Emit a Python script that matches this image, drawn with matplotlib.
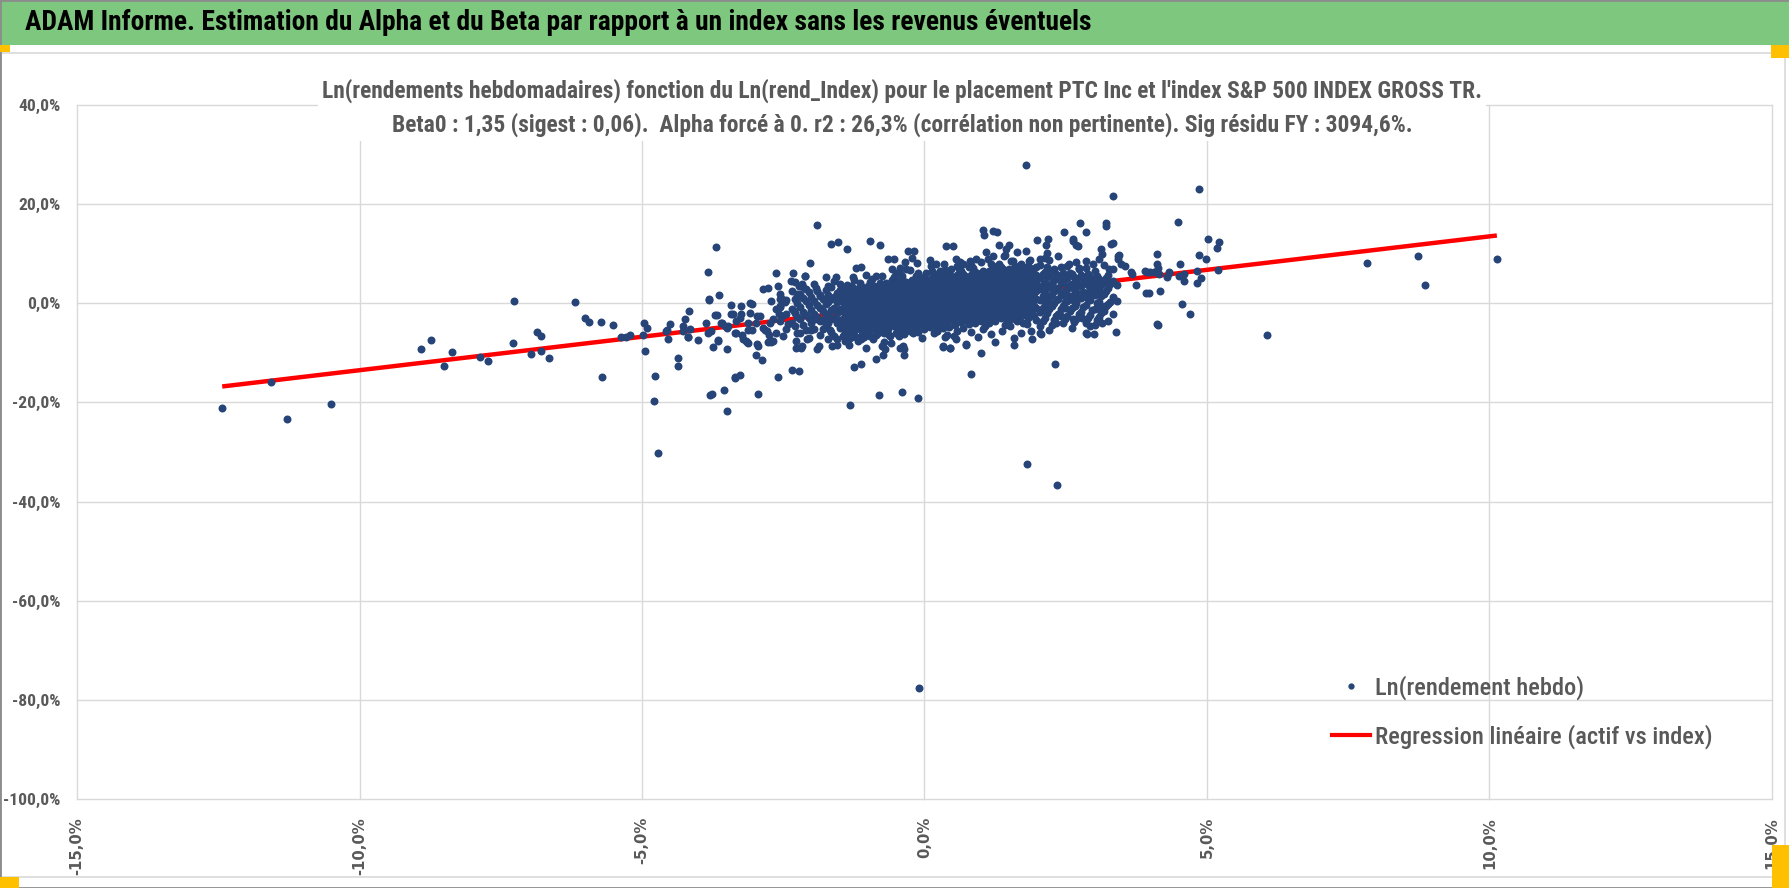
import matplotlib.pyplot as plt
from matplotlib import font_manager as fm
from matplotlib.patches import Rectangle
from matplotlib.lines import Line2D
from matplotlib.ticker import FuncFormatter, MultipleLocator

# Rendements (en %) : x = Ln(rend_Index), y = Ln(rendement hebdo)
# points isolés
pts_outer = [
    (-12.43, -21.2), (-11.57, -15.8), (-11.28, -23.4), (-10.51, -20.3),
    (-8.92, -9.3), (-8.73, -7.5), (-8.51, -12.6), (-8.36, -9.9), (-7.86, -10.8), (-7.73, -11.7),
    (-7.26, 0.4), (-7.28, -8.1), (-6.96, -10.2), (-6.86, -5.7), (-6.79, -6.7), (-6.79, -9.7),
    (-6.65, -11.1), (-6.18, 0.2), (-6.01, -3.0), (-5.93, -3.7), (-5.73, -3.7), (-5.71, -14.9),
    (-5.51, -4.3), (-5.37, -6.9), (-5.28, -6.9), (-5.21, -6.3), (-4.96, -4.0), (-4.92, -4.9),
    (-4.98, -6.3), (-4.94, -9.6), (-4.77, -14.7), (-4.78, -19.7), (-4.72, -30.3),
    (-4.36, -11.0), (-4.36, -12.7), (-3.79, -18.5), (-3.76, -18.3), (-3.55, -17.4),
    (-3.49, -21.8), (-3.35, -15.0), (-3.26, -14.5), (-2.94, -18.3), (-2.98, -10.5),
    (-2.88, -11.4), (-2.59, -14.95), (-2.35, -13.5), (-2.23, -13.7), (-1.31, -20.6),
    (-1.24, -12.9), (-1.12, -12.3), (-0.81, -18.6), (-0.39, -17.8), (-0.12, -19.1),
    (-0.86, -11.2), (-0.74, -10.5), (-0.76, -8.6), (-0.43, -8.95), (-0.37, -10.5), (-1.04, -9.1),
    (0.82, -14.3), (1.0, -10.0), (0.74, -8.5), (0.33, -8.8), (0.45, -9.1),
    (1.82, -32.4), (2.35, -36.6), (2.31, -12.3), (1.58, -8.5), (1.9, -7.3), (2.07, -6.1),
    (2.88, -6.1), (3.0, -6.1), (3.39, -5.7), (4.13, -4.4), (4.55, -0.2), (4.70, -2.2),
    (-0.09, -77.6),
    (1.80, 27.9), (3.33, 21.7), (4.86, 23.1), (4.49, 16.4),
    (7.83, 8.1), (8.73, 9.6), (8.85, 3.7), (10.13, 9.0), (6.07, -6.3),
    (5.01, 12.9), (5.21, 12.3), (5.18, 11.1), (4.12, 9.9), (4.86, 9.7), (4.98, 8.9), (4.53, 7.9),
    (4.12, 7.9), (4.14, 7.2), (3.93, 6.3), (4.0, 6.3), (4.06, 6.3), (4.33, 6.3), (4.3, 5.4),
    (4.5, 5.5), (4.59, 4.5), (4.89, 5.0), (4.83, 4.0), (5.2, 6.7), (3.75, 3.7), (3.92, 2.0),
    (3.97, 2.0), (4.17, 2.5), (4.12, -4.2),
    (-3.69, 11.4), (-1.90, 15.8), (-1.65, 11.9), (-1.53, 12.3), (-1.37, 11.0), (-0.96, 12.6),
    (-0.78, 11.7), (2.75, 16.1), (3.21, 16.1), (3.22, 15.6), (2.47, 14.4), (2.86, 14.3),
    (2.63, 12.9), (2.69, 11.7), (2.15, 11.8), (2.19, 12.9), (3.33, 12.1), (3.43, 8.9),
    (3.45, 9.7), (3.33, 6.9), (3.26, 7.0), (3.55, 7.5), (3.65, 6.3), (3.68, 6.0), (3.12, 10.9),
    (3.15, 9.9), (1.03, 14.8), (1.06, 13.8), (1.21, 14.6), (1.28, 14.4), (1.31, 11.7),
    (1.49, 11.7), (1.80, 10.6), (1.43, 9.7), (1.08, 10.4), (0.51, 11.5), (-0.19, 10.5),
    (-0.22, 9.2), (-0.54, 9.0), (-1.12, 7.3),
]

# nuage à gauche du coeur
pts_left = [
    (-2.02, 8.1), (-2.63, 6.1), (-2.33, 6.1), (-2.30, 4.2), (-2.11, 5.6), (-2.17, 3.9),
    (-2.77, 3.0), (-2.59, 3.5), (-2.36, 4.5), (-3.84, 6.3), (-3.64, 1.6), (-3.81, 0.6),
    (-4.17, -1.5), (-4.55, -5.3), (-4.51, -4.2), (-4.54, -7.3), (-4.27, -5.6), (-4.24, -3.2),
    (-4.18, -6.9), (-4.15, -5.1), (-4.0, -7.5), (-3.87, -3.9), (-3.77, -5.6), (-3.75, -8.8),
    (-3.68, -2.4), (-3.65, -7.4), (-3.59, -3.9), (-3.5, -9.3), (-3.48, -4.6), (-3.43, -0.4),
    (-3.39, -2.2), (-3.36, -14.8), (-3.34, -5.9), (-3.24, -0.5), (-3.27, -2.9), (-3.21, -7.3),
    (-3.15, -7.9), (-3.12, -3.9), (-3.09, 0.1), (-3.12, -5.3), (-2.95, -8.6), (-2.92, -2.6),
    (-2.86, 2.8), (-2.83, -5.3), (-2.77, -7.9), (-2.74, -3.9), (-2.71, 0.5), (-2.62, -1.2),
    (-2.56, 0.8), (-2.53, -2.6), (-2.50, -6.6), (-4.57, -5.6), (-4.28, -4.6), (-4.19, -6.9),
    (-3.84, -5.9), (-3.82, 0.8), (-3.65, -7.6), (-3.70, -2.4), (-3.60, -3.9), (-3.53, -4.6),
    (-3.50, -4.9), (-3.36, -5.9), (-3.33, -3.6), (-3.43, -2.2), (-3.24, -2.2), (-3.23, -6.3),
    (-3.16, -7.6), (-3.13, -8.0), (-3.06, -5.3), (-2.98, -3.9), (-2.96, -8.3), (-3.09, -1.9),
    (-3.06, -0.2), (-2.96, -2.6), (-2.86, -4.9), (-2.79, -5.6), (-2.75, -6.3), (-2.72, -7.9),
    (-2.69, -7.6), (-2.62, -5.9), (-2.69, -3.2), (-2.58, -2.2), (-2.55, -0.5), (-2.42, -4.2),
    (-2.31, -1.6), (-2.28, -7.6), (-2.21, -5.9), (-2.16, -8.6), (-2.08, -7.3), (-2.01, -5.3),
    (-2.28, -9.0), (-2.18, -9.0), (-1.91, -9.3), (-1.87, -8.6), (-1.94, -3.2), (-1.74, -4.2),
    (-1.70, -7.3), (-1.67, -5.3), (-1.64, -8.6), (-1.55, -8.5), (-2.53, 0.8), (-2.47, 0.3),
    (-2.23, 3.5), (-2.20, 1.5), (-1.92, 3.1), (-1.85, 1.5), (-1.75, 5.3), (-1.70, 3.4),
    (-1.57, 5.3), (-1.49, 3.9), (-2.12, 5.5),
]

# bordures du coeur dense
pts_fringe = [
    (-1.43, -6.3), (-1.40, -7.6), (-1.34, -5.6), (-1.27, -6.6), (-1.25, -4.9), (-1.13, -7.3),
    (-1.09, -5.9), (-1.02, -5.3), (-0.92, -7.3), (-0.86, -5.9), (-0.72, -7.9), (-0.70, -9.2),
    (-0.62, -6.3), (-0.48, -5.9), (-0.45, -6.6), (-0.38, -8.6), (-0.36, -9.3), (-0.31, -5.3),
    (-0.21, -5.9), (0.02, -4.2), (0.16, -5.9), (0.22, -5.6), (0.32, -8.6), (0.36, -6.9),
    (0.46, -9.0), (0.53, -6.6), (0.56, -7.3), (0.73, -8.3), (0.82, -5.8), (1.18, -6.1),
    (1.37, -5.6), (1.51, -4.6), (1.58, -7.1), (1.64, -3.6), (1.71, -5.9), (1.81, -4.2),
    (1.88, -5.6), (2.05, -5.9), (2.19, 0.2), (2.32, -3.9), (2.42, -2.6), (2.49, -0.9),
    (2.63, -3.2), (2.66, -0.5), (2.79, -2.9), (2.86, -5.9), (2.93, -4.6), (3.07, -3.2),
    (3.10, -1.2), (3.15, -3.9), (3.20, -0.5),
    (0.57, 7.6), (0.34, 8.0), (0.27, 6.5), (0.12, 7.5), (-0.39, 5.5), (-0.33, 7.0), (-0.12, 6.1),
    (-0.57, 6.9), (-0.53, 4.6), (-0.86, 5.5), (-0.91, 3.5), (-1.12, 3.5), (-1.09, 2.2),
    (-1.27, 5.3), (-1.3, 3.5), (-1.21, 7.2), (-0.65, 9.0), (-0.29, 10.6), (-0.14, 8.2),
    (-0.44, 7.2), (-0.50, 6.2), (0.38, 11.5), (0.21, 7.9), (0.56, 9.0), (0.68, 7.9), (0.80, 8.5),
    (0.91, 8.9), (0.85, 7.2), (1.21, 9.6), (1.40, 9.6), (1.53, 8.6), (1.64, 10.4), (1.70, 7.9),
    (1.85, 8.6), (1.99, 12.8), (2.17, 10.1), (2.05, 8.9), (2.14, 9.2), (2.62, 12.6), (2.71, 11.5),
    (2.56, 7.9), (2.74, 7.2), (2.86, 8.6), (2.98, 7.9), (3.30, 11.9), (3.42, 9.6), (3.48, 7.9),
    (3.91, 6.5), (4.15, 5.9), (4.59, 5.9), (4.83, 6.5), (4.33, 6.2),
    (-0.05, -7.0), (0.40, -6.3), (0.95, -6.8), (1.25, -7.9), (-0.60, -8.1), (0.10, 8.7),
    (0.62, 8.4), (1.12, 8.9), (-0.35, 8.4), (1.45, 10.9),
]

# colonnes denses : indice -> rendements de l'actif
left_columns = {
    -2.55: [-3.5, -0.8, 1.9],
    -2.45: [-5.2, -2.1, 0.6],
    -2.35: [-3.9, -1.2, 2.4],
    -2.30: [-4.6, -1.9, 0.8],
    -2.25: [-6.0, -2.7, 0.0, 1.8],
    -2.20: [-3.2, -0.8, 1.9],
    -2.15: [-4.4, -1.7, 1.0, 3.2],
    -2.10: [-5.4, -2.3, 0.4, 2.9],
    -2.05: [-3.0, -0.4, 2.3, -7.0],
    -2.00: [-4.0, -1.4, 1.3],
    -1.95: [-5.1, -2.2, 0.5, 3.9],
    -1.90: [-2.8, -0.3, 2.4],
    -1.85: [-3.6, -1.0, 1.6, -6.4],
    -1.80: [-5.2, -3.3, -1.6, 0.8],
    -1.75: [-4.6, -2.5, -0.2, 2.6],
    -1.70: [-3.9, -2.1, 0.2, 1.7],
    -1.65: [-5.8, -3.2, -1.4, 0.9, 3.3],
    -1.60: [-6.5, -2.9, -0.9, 1.2, 4.5],
    -1.55: [-4.0, -2.0, 0.3, 2.1, -7.3],
    -1.50: [-5.0, -3.4, -1.1, 0.8, 2.6],
}

core_columns = {
    -1.45: [-6.7, -4.8, -3.1, -1.5, 0.2, 2.0],
    -1.415: [-5.9, -4.0, -2.2, -0.7, 1.0, 2.9],
    -1.38: [-5.4, -3.7, -2.3, -0.5, 1.2, 3.6],
    -1.345: [-6.2, -3.1, -1.5, 0.2, 1.9, -8.4],
    -1.31: [-7.1, -4.2, -2.7, -1.0, 0.7, 2.3],
    -1.275: [-4.9, -3.4, -1.8, -0.2, 1.4, 3.2],
    -1.24: [-5.6, -3.3, -1.7, 0.0, 1.7, 4.6],
    -1.205: [-6.8, -4.0, -2.4, -0.8, 0.9, 2.8],
    -1.17: [-4.5, -2.8, -1.1, 0.5, 2.3, -7.7],
    -1.135: [-5.2, -3.2, -1.5, 0.1, 1.8, 4.0],
    -1.10: [-6.1, -3.6, -1.9, -0.4, 1.3, 3.0],
    -1.065: [-4.4, -2.6, -0.9, 0.8, 2.5, -6.9],
    -1.03: [-4.7, -2.9, -1.2, 0.4, 2.1, 5.7],
    -0.995: [-5.6, -3.3, -1.7, 0.0, 1.6, 3.4],
    -0.96: [-6.5, -3.8, -2.1, -0.5, 1.1, 2.8, 4.3],
    -0.925: [-4.3, -2.5, -0.9, 0.9, 2.4, 4.9],
    -0.89: [-5.1, -3.2, -1.5, 0.2, 1.8, 3.5],
    -0.855: [-6.3, -3.9, -2.0, -0.3, 1.4, 3.0],
    -0.82: [-4.2, -2.3, -0.7, 1.0, 2.6, -5.9],
    -0.785: [-4.8, -2.8, -1.1, 0.5, 2.1, 4.1],
    -0.75: [-5.3, -3.4, -1.8, -0.2, 1.5, 3.2, 5.6],
    -0.715: [-3.7, -2.1, -0.4, 1.2, 2.9, -6.0],
    -0.68: [-4.3, -2.7, -1.0, 0.6, 2.2, 4.0],
    -0.645: [-5.1, -3.0, -1.3, 0.2, 1.9, 3.5],
    -0.61: [-6.7, -3.5, -1.9, -0.3, 1.4, 3.0],
    -0.575: [-4.1, -2.3, -0.6, 1.0, 2.7, 4.6],
    -0.54: [-4.6, -2.8, -1.2, 0.4, 2.0, 3.7, 5.3],
    -0.505: [-5.9, -3.3, -1.6, 0.0, 1.6, 3.3],
    -0.47: [-3.7, -2.0, -0.5, 1.1, 2.8, -5.3],
    -0.435: [-4.3, -2.5, -0.8, 0.8, 2.4, 4.1, 5.9],
    -0.40: [-4.9, -3.0, -1.4, 0.2, 1.8, 3.4, 4.9],
    -0.365: [-3.5, -1.8, -0.1, 1.5, 3.1, -6.2],
    -0.33: [-3.9, -2.2, -0.6, 1.0, 2.6, 4.2],
    -0.295: [-4.7, -2.7, -1.0, 0.6, 2.2, 3.8],
    -0.26: [-5.5, -3.2, -1.5, 0.1, 1.7, 3.4, 6.7],
    -0.225: [-3.8, -2.0, -0.3, 1.3, 2.9, 4.6],
    -0.19: [-4.2, -2.4, -0.8, 0.8, 2.4, 4.0],
    -0.155: [-5.0, -2.9, -1.2, 0.4, 2.0, 3.6, 5.5],
    -0.12: [-3.3, -1.6, 0.0, 1.6, 3.2, 4.9, -5.7],
    -0.085: [-4.0, -2.1, -0.5, 1.1, 2.7, 4.3],
    -0.05: [-4.4, -2.5, -0.9, 0.7, 2.3, 3.9],
    -0.015: [-3.2, -1.4, 0.2, 1.9, 3.5, 5.3, -5.2],
    0.02: [-3.7, -1.8, -0.2, 1.4, 3.0, 4.7, 6.2],
    0.055: [-4.3, -2.3, -0.6, 1.0, 2.6, 4.2],
    0.09: [-4.8, -2.8, -1.1, 0.5, 2.1, 3.7],
    0.125: [-3.4, -1.6, 0.1, 1.7, 3.3, 5.0, 6.6],
    0.16: [-4.0, -2.1, -0.4, 1.2, 2.8, 4.4, 5.8],
    0.195: [-4.6, -2.6, -0.9, 0.7, 2.3, 3.9],
    0.23: [-3.1, -1.3, 0.4, 2.0, 3.6, 5.2, -5.6],
    0.265: [-3.7, -1.8, -0.1, 1.5, 3.1, 4.8, 6.1],
    0.30: [-4.2, -2.2, -0.5, 1.1, 2.7, 4.3],
    0.335: [-2.9, -1.0, 0.7, 2.3, 3.9, 5.6, -5.0],
    0.37: [-3.3, -1.5, 0.2, 1.8, 3.4, 5.1, 6.7],
    0.405: [-4.0, -2.0, -0.3, 1.3, 3.0, 4.6],
    0.44: [-4.8, -2.4, -0.7, 0.9, 2.5, 4.1, 5.8],
    0.475: [-3.0, -1.1, 0.6, 2.2, 3.8, 5.5, 7.0],
    0.51: [-3.4, -1.6, 0.1, 1.7, 3.3, 4.9],
    0.545: [-4.4, -2.1, -0.4, 1.2, 2.8, 4.4],
    0.58: [-2.6, -0.9, 0.8, 2.4, 4.0, 5.7, -5.5],
    0.615: [-3.2, -1.4, 0.3, 1.9, 3.5, 5.2, 6.9],
    0.65: [-3.7, -1.8, -0.1, 1.5, 3.1, 4.7, 6.5],
    0.685: [-2.4, -0.6, 1.1, 2.7, 4.3, 6.0, -4.9],
    0.72: [-2.9, -1.1, 0.6, 2.2, 3.8, 5.5],
    0.755: [-3.5, -1.6, 0.1, 1.7, 3.3, 5.0],
    0.79: [-4.1, -2.0, -0.3, 1.3, 2.9, 4.5, 7.4],
    0.825: [-2.7, -0.8, 0.9, 2.5, 4.1, 5.8, 7.8],
    0.86: [-3.2, -1.2, 0.5, 2.1, 3.7, 5.3, 6.8],
    0.895: [-3.9, -1.7, 0.0, 1.6, 3.2, 4.8, 6.4],
    0.93: [-2.4, -0.5, 1.2, 2.8, 4.4, 6.1],
    0.965: [-2.9, -1.0, 0.7, 2.3, 3.9, 5.6],
    1.00: [-3.5, -1.4, 0.3, 1.9, 3.5, 5.1, 8.3],
    1.035: [-2.0, -0.1, 1.6, 3.2, 4.8, 6.6, -5.1],
    1.07: [-2.6, -0.6, 1.1, 2.7, 4.3, 5.9, -4.5],
    1.105: [-3.3, -1.2, 0.6, 2.2, 3.8, 5.4],
    1.14: [-4.0, -1.6, 0.1, 1.7, 3.3, 4.9, 6.6],
    1.175: [-2.3, -0.3, 1.4, 3.0, 4.6, 6.2, 8.0],
    1.21: [-2.7, -0.8, 0.9, 2.5, 4.1, 5.7, 7.6],
    1.245: [-3.5, -1.3, 0.4, 2.0, 3.6, 5.3],
    1.28: [-1.8, 0.0, 1.7, 3.3, 4.9, 6.6],
    1.315: [-2.5, -0.5, 1.2, 2.8, 4.4, 6.1, 7.9],
    1.35: [-3.0, -1.0, 0.7, 2.3, 3.9, 5.5, 7.3],
    1.385: [-1.6, 0.3, 2.0, 3.6, 5.2, 6.9],
    1.42: [-2.1, -0.2, 1.5, 3.1, 4.7, 6.3, -4.3],
    1.455: [-2.8, -0.7, 1.0, 2.6, 4.2, 5.8, -3.8],
    1.49: [-3.3, -1.2, 0.5, 2.1, 3.7, 5.3, 7.0],
    1.525: [-1.8, 0.1, 1.8, 3.4, 5.0, 6.7],
    1.56: [-2.3, -0.4, 1.3, 2.9, 4.5, 6.1, 8.5],
    1.595: [-3.1, -0.9, 0.8, 2.4, 4.0, 5.6, 7.6],
    1.63: [-1.4, 0.4, 2.1, 3.7, 5.3, 7.0],
    1.665: [-2.0, -0.1, 1.6, 3.2, 4.8, 6.4],
    1.70: [-2.6, -0.6, 1.1, 2.7, 4.3, 5.9, 7.8],
    1.735: [-1.1, 0.7, 2.4, 4.0, 5.6, 7.3, -3.9],
    1.77: [-1.7, 0.2, 1.9, 3.5, 5.1, 6.7],
    1.805: [-2.3, -0.2, 1.5, 3.1, 4.7, 6.3],
    1.84: [-3.0, -0.7, 1.0, 2.6, 4.2, 5.8, 7.5],
    1.875: [-1.4, 0.5, 2.2, 3.8, 5.4, 7.1, 8.7],
    1.91: [-1.9, 0.0, 1.7, 3.3, 4.9, 6.5],
    1.945: [-2.6, -0.5, 1.2, 2.8, 4.4, 6.0],
    1.98: [-1.0, 0.8, 2.5, 4.1, 5.7, 7.4, -3.3],
}

right_columns = {
    2.05: [-4.6, -1.8, 0.6, 2.9, 5.2, 7.7],
    2.09: [-3.5, -0.9, 1.4, 3.7, 6.0],
    2.13: [-2.9, -0.3, 1.9, 4.1, 6.4],
    2.17: [-1.9, 0.8, 3.0, 5.3, 7.4],
    2.21: [-5.3, -1.2, 1.2, 3.5, 5.8, 8.8],
    2.25: [-4.3, -0.6, 1.8, 4.1, 6.5],
    2.29: [-3.4, 0.1, 2.4, 4.7, 7.0],
    2.33: [-2.6, 0.7, 3.0, 5.9],
    2.37: [-2.1, 0.9, 3.1, 5.4, 9.5],
    2.41: [-1.2, 1.8, 4.2, 7.3],
    2.45: [-4.0, -0.6, 1.7, 4.0, 6.2],
    2.49: [-3.2, 0.2, 2.5, 4.9],
    2.53: [-2.6, 0.4, 2.8, 5.1, 7.6],
    2.57: [-1.5, 1.5, 3.6, 6.2],
    2.61: [-5.0, -1.0, 1.5, 3.8, 6.0],
    2.65: [-3.8, 0.5, 2.9, 5.4],
    2.69: [-3.1, 0.0, 2.3, 4.6, 8.4],
    2.73: [-2.2, 1.0, 3.6, 6.9],
    2.77: [-1.8, 1.1, 3.4, 5.7],
    2.81: [-0.8, 2.2, 4.8],
    2.85: [-3.9, -0.4, 2.0, 4.3, 7.1],
    2.89: [-2.9, 0.9, 3.7, 6.0],
    2.93: [-2.4, 0.7, 3.0, 5.3],
    2.97: [-1.4, 2.0, 4.4],
    3.01: [-4.4, -1.1, 1.6, 3.9, 6.6],
    3.05: [-3.4, 0.1, 2.9, 5.6],
    3.09: [-2.8, 0.3, 2.6, 4.9, 9.0],
    3.13: [-1.9, 1.4, 3.6],
    3.17: [-1.5, 1.9, 4.2, 7.8],
    3.21: [-0.6, 2.5, 5.0],
    3.25: [-3.6, -0.2, 3.1, 5.8],
    3.29: [0.3, 3.8],
    3.33: [-2.2, 1.2, 4.5],
    3.41: [0.5, 3.6],
}

beta0 = 1.35
reg_x = [-12.43, 10.13]

titre = "ADAM Informe. Estimation du Alpha et du Beta par rapport à un index sans les revenus éventuels"
sous_titre = ("Ln(rendements hebdomadaires) fonction du Ln(rend_Index) pour le placement PTC Inc et l'index S&P 500 INDEX GROSS TR.\n"
              "Beta0 : 1,35 (sigest : 0,06).  Alpha forcé à 0. r2 : 26,3% (corrélation non pertinente). Sig résidu FY : 3094,6%.")
legende = ["Ln(rendement hebdo)", "Regression linéaire (actif vs index)"]

# police étroite si dispo (proche de Calibri)
dispo = {f.name for f in fm.fontManager.ttflist}
cond = next((n for n in ["Liberation Sans Narrow", "DejaVu Sans Condensed", "Roboto Condensed",
                         "Open Sans Condensed", "Roboto"] if n in dispo), "DejaVu Sans")
narrow = [cond, "DejaVu Sans"]
gris = "#595959"
bleu = "#264478"

xs, ys = [], []
for pts in (pts_outer, pts_left, pts_fringe):
    for x, y in pts:
        xs.append(x)
        ys.append(y)
for cols in (left_columns, core_columns, right_columns):
    for x, yl in cols.items():
        xs += [x] * len(yl)
        ys += yl

W, H = 1790, 888
fig = plt.figure(figsize=(W / 100, H / 100), dpi=100)
renderer = fig.canvas.get_renderer()


def taille(txt, largeur_px, **kw):
    # taille de police pour une largeur donnée en pixels
    t = fig.text(0, 0, txt, fontsize=20, **kw)
    w = t.get_window_extent(renderer=renderer).width
    t.remove()
    return 20 * largeur_px / w


# bandeau vert + cadres
fig.add_artist(Rectangle((0, 1 - 45 / H), 1, 45 / H, transform=fig.transFigure,
                         facecolor="#7EC77F", edgecolor="none", zorder=0))
fig.add_artist(Rectangle((1 / W, 1 - 877 / H), 1784 / W, (877 - 53) / H, transform=fig.transFigure,
                         facecolor="none", edgecolor="#D9D9D9", lw=1.2, zorder=0))
fig.add_artist(Rectangle((0, 0), 1, 1, transform=fig.transFigure,
                         facecolor="none", edgecolor="#8C8C8C", lw=2, zorder=5))
for (x0, y0, w, h) in [(0, 45, 10, 7), (1771, 45, 19, 13), (0, 877, 19, 11), (1772, 845, 18, 43)]:
    fig.add_artist(Rectangle((x0 / W, 1 - (y0 + h) / H), w / W, h / H, transform=fig.transFigure,
                             facecolor="#FFC000", edgecolor="none", zorder=6))

fs_titre = taille(titre, 1065, family=narrow, fontweight="bold")
fig.text(25 / W, 1 - 23 / H, titre, ha="left", va="center", fontsize=fs_titre,
         family=narrow, fontweight="bold", color="black")

ax = fig.add_axes([77 / W, 1 - 799 / H, (1772 - 77) / W, (799 - 105) / H])
ax.set_facecolor("none")

ax.plot(reg_x, [beta0 * v for v in reg_x], color="#FF0000", lw=3.2, zorder=2,
        solid_capstyle="butt")
ax.scatter(xs, ys, s=33, color=bleu, linewidths=0, zorder=3)

ax.set_xlim(-15, 15)
ax.set_ylim(-100, 40)
ax.xaxis.set_major_locator(MultipleLocator(5))
ax.yaxis.set_major_locator(MultipleLocator(20))
fmt = FuncFormatter(lambda v, p: f"{v:.1f}%".replace(".", ","))
ax.xaxis.set_major_formatter(fmt)
ax.yaxis.set_major_formatter(fmt)
ax.grid(True, color="#D9D9D9", lw=1.0)
ax.set_axisbelow(True)
for s in ax.spines.values():
    s.set_visible(False)

fs_y = taille("-100,0%", 57, family=narrow, fontweight="bold")
fs_x = taille("-15,0%", 58, family="DejaVu Sans", fontweight="bold")
ax.tick_params(length=0)
ax.tick_params(axis="y", pad=12, labelsize=fs_y, labelcolor=gris)
ax.tick_params(axis="x", pad=13, labelsize=fs_x, labelcolor=gris, labelrotation=90)
for lab in ax.get_yticklabels():
    lab.set_family(narrow)
    lab.set_fontweight("bold")
for lab in ax.get_xticklabels():
    lab.set_family("DejaVu Sans")
    lab.set_fontweight("bold")
for gl in ax.get_xgridlines() + ax.get_ygridlines():
    gl.set_clip_on(False)

fs_sous = taille(sous_titre.split("\n")[0], 1160, family=narrow, fontweight="bold")
fig.text(902 / W, 1 - 108 / H, sous_titre, ha="center", va="center", multialignment="center",
         fontsize=fs_sous, family=narrow, fontweight="bold", color=gris, linespacing=1.5,
         bbox=dict(facecolor="white", edgecolor="none", pad=3), zorder=4)

fs_leg = taille(legende[0], 209, family=narrow, fontweight="medium")
handles = [Line2D([], [], marker="o", linestyle="none", color=bleu, markersize=3.5),
           Line2D([], [], color="#FF0000", lw=3.0)]
ax.legend(handles, legende, loc="center left", bbox_to_anchor=(1320 / W, 1 - 712 / H),
          bbox_transform=fig.transFigure, frameon=False, borderpad=0,
          handlelength=38 / (fs_leg * 100 / 72), handletextpad=0.2,
          labelspacing=(53 - 1.2 * fs_leg * 100 / 72) / (fs_leg * 100 / 72),
          prop={"family": narrow, "size": fs_leg, "weight": "medium"}, labelcolor=gris)

fig.savefig("out.png", dpi=100)
